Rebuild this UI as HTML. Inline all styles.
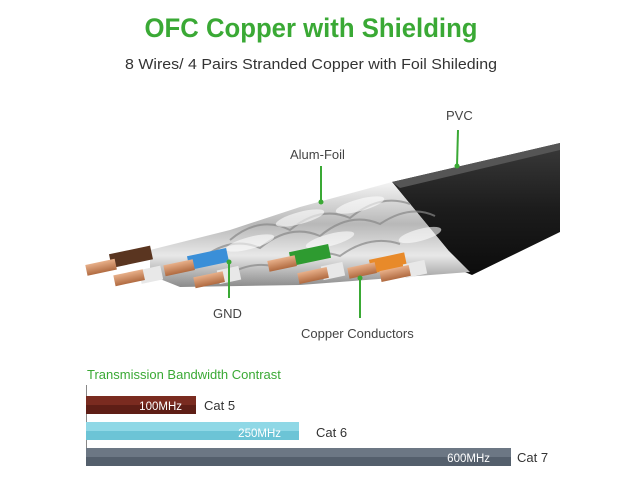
<!DOCTYPE html>
<html><head><meta charset="utf-8"><style>
html,body{margin:0;padding:0;background:#fff;}
svg{display:block;}
text{font-family:"Liberation Sans",sans-serif;}
</style></head><body>
<svg width="640" height="480" viewBox="0 0 640 480" xmlns="http://www.w3.org/2000/svg">
<defs>
<linearGradient id="foil" x1="0" y1="0" x2="0" y2="1">
<stop offset="0" stop-color="#f4f4f4"/><stop offset="0.4" stop-color="#b8b8b8"/><stop offset="0.7" stop-color="#e8e8e8"/><stop offset="1" stop-color="#8a8a8a"/></linearGradient>
<linearGradient id="pvc" x1="0" y1="0" x2="0" y2="1">
<stop offset="0" stop-color="#3a3a3a"/><stop offset="0.5" stop-color="#1c1c1c"/><stop offset="1" stop-color="#0c0c0c"/></linearGradient>
<linearGradient id="cu" x1="0" y1="0" x2="0" y2="1">
<stop offset="0" stop-color="#e8b08a"/><stop offset="1" stop-color="#b06a40"/></linearGradient>
</defs>
<text x="311" y="37" text-anchor="middle" font-size="27" font-weight="bold" fill="#3aa935" textLength="333" lengthAdjust="spacingAndGlyphs">OFC Copper with Shielding</text>
<text x="311" y="69" text-anchor="middle" font-size="15" fill="#333" textLength="372" lengthAdjust="spacingAndGlyphs">8 Wires/ 4 Pairs Stranded Copper with Foil Shileding</text>

<!-- PVC jacket -->
<polygon points="392,182 560,143 560,232 472,275 455,268 448,250" fill="url(#pvc)"/>
<path d="M392,182 L560,143 L560,150 L400,188 Z" fill="#555"/>
<!-- foil band -->
<polygon points="150,250 230,230 300,207 392,182 448,250 470,272 300,285 180,287 150,275" fill="url(#foil)"/>
<g fill="none" stroke="#888" stroke-width="2" opacity="0.7">
<path d="M230,240 q30,-25 60,-10 q30,-25 60,-12 q30,-25 60,-14"/>
<path d="M200,260 q30,-25 60,-12 q30,-25 60,-12 q30,-25 60,-12 q30,-20 55,-8"/>
<path d="M220,280 q30,-22 60,-12 q30,-22 60,-12 q30,-22 60,-12"/>
</g>
<g fill="#fff" opacity="0.6">
<ellipse cx="300" cy="218" rx="25" ry="6" transform="rotate(-15 300 218)"/>
<ellipse cx="360" cy="205" rx="25" ry="6" transform="rotate(-15 360 205)"/>
<ellipse cx="250" cy="243" rx="25" ry="6" transform="rotate(-15 250 243)"/>
<ellipse cx="330" cy="240" rx="25" ry="6" transform="rotate(-15 330 240)"/>
<ellipse cx="420" cy="235" rx="22" ry="6" transform="rotate(-15 420 235)"/>
</g>
<!-- wire ends -->
<g>
<rect x="110" y="250" width="42" height="14" fill="#5a3520" transform="rotate(-12 130 257)"/>
<rect x="86" y="262" width="30" height="11" fill="url(#cu)" transform="rotate(-12 100 267)"/>
<rect x="140" y="268" width="22" height="14" fill="#e8e8e8" transform="rotate(-12 150 275)"/>
<rect x="114" y="272" width="30" height="11" fill="url(#cu)" transform="rotate(-12 130 277)"/>

<rect x="188" y="252" width="40" height="14" fill="#3a8fd8" transform="rotate(-12 208 259)"/>
<rect x="164" y="262" width="30" height="11" fill="url(#cu)" transform="rotate(-12 180 267)"/>
<rect x="218" y="268" width="22" height="14" fill="#e8e8e8" transform="rotate(-12 229 275)"/>
<rect x="194" y="274" width="30" height="11" fill="url(#cu)" transform="rotate(-12 210 279)"/>

<rect x="290" y="248" width="40" height="14" fill="#2e9b30" transform="rotate(-12 310 255)"/>
<rect x="268" y="258" width="28" height="11" fill="url(#cu)" transform="rotate(-12 282 263)"/>
<rect x="322" y="264" width="22" height="14" fill="#e8e8e8" transform="rotate(-12 333 271)"/>
<rect x="298" y="270" width="30" height="11" fill="url(#cu)" transform="rotate(-12 313 275)"/>

<rect x="370" y="256" width="36" height="14" fill="#e88a2a" transform="rotate(-12 388 263)"/>
<rect x="348" y="265" width="28" height="11" fill="url(#cu)" transform="rotate(-12 362 270)"/>
<rect x="404" y="262" width="22" height="14" fill="#e8e8e8" transform="rotate(-12 415 269)"/>
<rect x="380" y="268" width="30" height="11" fill="url(#cu)" transform="rotate(-12 395 273)"/>
</g>

<!-- labels -->
<g stroke="#3aa935" stroke-width="2">
<line x1="458" y1="130" x2="457" y2="166"/>
<line x1="321" y1="166" x2="321" y2="202"/>
<line x1="229" y1="262" x2="229" y2="298"/>
<line x1="360" y1="278" x2="360" y2="318"/>
</g>
<g fill="#3aa935"><circle cx="457" cy="166" r="2.5"/><circle cx="321" cy="202" r="2.5"/><circle cx="229" cy="262" r="2.5"/><circle cx="360" cy="278" r="2.5"/></g>
<g font-size="13" fill="#444">
<text x="446" y="120">PVC</text>
<text x="290" y="159">Alum-Foil</text>
<text x="213" y="318">GND</text>
<text x="301" y="338">Copper Conductors</text>
</g>

<!-- chart -->
<text x="87" y="379" font-size="13" fill="#3aa935">Transmission Bandwidth Contrast</text>
<line x1="86.5" y1="385" x2="86.5" y2="466" stroke="#888" stroke-width="1"/>
<rect x="86" y="396" width="110" height="18" fill="#7a2b20"/>
<rect x="86" y="405" width="110" height="9" fill="#5e1e16"/>
<text x="182" y="410" font-size="11.5" fill="#fff" text-anchor="end">100MHz</text>
<text x="204" y="410" font-size="13" fill="#333">Cat 5</text>
<rect x="86" y="422" width="213" height="18" fill="#8fd8e6"/>
<rect x="86" y="431" width="213" height="9" fill="#6cc4d6"/>
<text x="281" y="437" font-size="11.5" fill="#fff" text-anchor="end">250MHz</text>
<text x="316" y="437" font-size="13" fill="#333">Cat 6</text>
<rect x="86" y="448" width="425" height="18" fill="#6c7784"/>
<rect x="86" y="457" width="425" height="9" fill="#545f6c"/>
<text x="490" y="462" font-size="11.5" fill="#fff" text-anchor="end">600MHz</text>
<text x="517" y="462" font-size="13" fill="#333">Cat 7</text>
</svg>
</body></html>
